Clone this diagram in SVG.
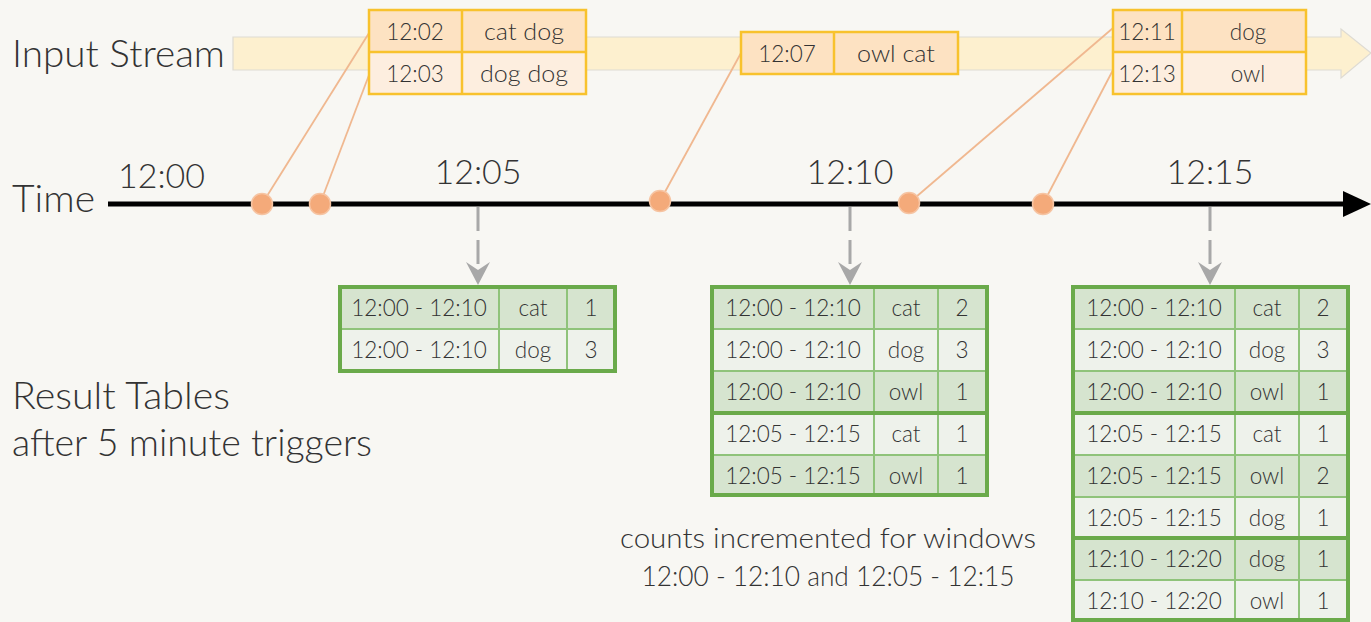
<svg xmlns="http://www.w3.org/2000/svg" width="1371" height="622" viewBox="0 0 1371 622">
<defs>
<style>
text{font-family:"Lato","Open Sans","Liberation Sans",sans-serif;font-weight:300;fill:#333}
.big{font-size:37px}
.tm{font-size:34px}
.cell{font-size:22.5px;text-anchor:middle}
.note{font-size:27px;text-anchor:middle}
.ev1{fill:#fde2c2}
.ev2{fill:#fdeedf}
.evb{fill:none;stroke:#f8c22d;stroke-width:2.5}
.rd{fill:#d6e4cf}
.rl{fill:#eef2eb}
.tin{stroke:#8fc37a;stroke-width:2}
.tgrp{stroke:#6aaa4a;stroke-width:4}
.tout{fill:none;stroke:#6aaa4a;stroke-width:4}
.link{stroke:#f0b890;stroke-width:1.8;fill:none}
.dot{fill:#f4aa7a;stroke:#f6c4a2;stroke-width:1.5}
.dash{stroke:#a8a8a8;stroke-width:3;stroke-dasharray:24 9;fill:none}
.arr{fill:#a8a8a8}
</style>
</defs>
<rect width="1371" height="622" fill="#f8f7f3"/>

<g id="input-stream">
<path d="M233,37 H1341 V29 L1371,53 L1341,78 V70 H233 Z" fill="#fdf0cf" stroke="#dedbd3" stroke-width="1.2"/>
<text class="big" x="12" y="67" textLength="213" lengthAdjust="spacingAndGlyphs">Input Stream</text>
</g>

<g id="time-axis">
<line x1="108" y1="204" x2="1345" y2="204" stroke="#000" stroke-width="5"/>
<path d="M1343,191 L1371,204 L1343,217 Z" fill="#000"/>
<text class="big" x="12" y="212" textLength="83" lengthAdjust="spacingAndGlyphs">Time</text>
<text class="tm" x="118" y="188">12:00</text>
<text class="tm" x="478" y="184" text-anchor="middle">12:05</text>
<text class="tm" x="850" y="184" text-anchor="middle">12:10</text>
<text class="tm" x="1210" y="184" text-anchor="middle">12:15</text>
</g>

<g id="connectors">
<line class="link" x1="262" y1="204" x2="369" y2="33"/>
<line class="link" x1="320" y1="204" x2="369" y2="75"/>
<line class="link" x1="660" y1="201" x2="741" y2="53"/>
<line class="link" x1="909" y1="203" x2="1113" y2="28"/>
<line class="link" x1="1043" y1="204" x2="1113" y2="70"/>
<line class="dash" x1="478" y1="207" x2="478" y2="266"/>
<path class="arr" d="M466,262 L478,270 L490,262 L478,285 Z"/>
<line class="dash" x1="850" y1="207" x2="850" y2="266"/>
<path class="arr" d="M838,262 L850,270 L862,262 L850,285 Z"/>
<line class="dash" x1="1210" y1="207" x2="1210" y2="266"/>
<path class="arr" d="M1198,262 L1210,270 L1222,262 L1210,285 Z"/>
</g>

<g id="dots">
<circle class="dot" cx="262" cy="204" r="10.5"/>
<circle class="dot" cx="320" cy="204" r="10.5"/>
<circle class="dot" cx="660" cy="201" r="10.5"/>
<circle class="dot" cx="909" cy="203" r="10.5"/>
<circle class="dot" cx="1043" cy="204" r="10.5"/>
</g>

<g id="event-1203">
<rect class="ev1" x="369" y="10" width="217" height="42"/>
<rect class="ev2" x="369" y="52" width="217" height="42"/>
<rect class="evb" x="369" y="10" width="217" height="84"/>
<line class="evb" x1="369" y1="52" x2="586" y2="52"/>
<line class="evb" x1="462" y1="10" x2="462" y2="94"/>
<text class="cell" x="415" y="40">12:02</text>
<text class="cell" x="524" y="40" textLength="80" lengthAdjust="spacingAndGlyphs">cat dog</text>
<text class="cell" x="415" y="82">12:03</text>
<text class="cell" x="524" y="82" textLength="88" lengthAdjust="spacingAndGlyphs">dog dog</text>
</g>

<g id="event-1207">
<rect class="ev1" x="741" y="32" width="217" height="42"/>
<rect class="evb" x="741" y="32" width="217" height="42"/>
<line class="evb" x1="834" y1="32" x2="834" y2="74"/>
<text class="cell" x="787" y="62">12:07</text>
<text class="cell" x="896" y="62" textLength="78" lengthAdjust="spacingAndGlyphs">owl cat</text>
</g>

<g id="event-1211">
<rect class="ev1" x="1113" y="10" width="193" height="42"/>
<rect class="ev2" x="1113" y="52" width="193" height="42"/>
<rect class="evb" x="1113" y="10" width="193" height="84"/>
<line class="evb" x1="1113" y1="52" x2="1306" y2="52"/>
<line class="evb" x1="1182" y1="10" x2="1182" y2="94"/>
<text class="cell" x="1147" y="40">12:11</text>
<text class="cell" x="1248" y="40">dog</text>
<text class="cell" x="1147" y="82">12:13</text>
<text class="cell" x="1248" y="82">owl</text>
</g>

<g id="labels">
<text class="big" x="12" y="409" textLength="218" lengthAdjust="spacingAndGlyphs">Result Tables</text>
<text class="big" x="12" y="456" textLength="360" lengthAdjust="spacingAndGlyphs">after 5 minute triggers</text>
<text class="note" x="828" y="548" textLength="416" lengthAdjust="spacingAndGlyphs">counts incremented for windows</text>
<text class="note" x="828" y="586" textLength="373" lengthAdjust="spacingAndGlyphs">12:00 - 12:10 and 12:05 - 12:15</text>
</g>

<g id="result-1205">
<rect class="rd" x="340" y="287" width="275" height="42"/>
<rect class="rl" x="340" y="329" width="275" height="42"/>
<line class="tin" x1="340" y1="329" x2="615" y2="329"/>
<line class="tin" x1="499" y1="287" x2="499" y2="371"/>
<line class="tin" x1="567" y1="287" x2="567" y2="371"/>
<rect class="tout" x="340" y="287" width="275" height="84"/>
<text class="cell" x="419" y="316">12:00 - 12:10</text><text class="cell" x="533" y="316">cat</text><text class="cell" x="591" y="316">1</text>
<text class="cell" x="419" y="358">12:00 - 12:10</text><text class="cell" x="533" y="358">dog</text><text class="cell" x="591" y="358">3</text>
</g>

<g id="result-1210">
<rect class="rd" x="712" y="287" width="275" height="42"/>
<rect class="rl" x="712" y="329" width="275" height="42"/>
<rect class="rd" x="712" y="371" width="275" height="42"/>
<rect class="rl" x="712" y="413" width="275" height="42"/>
<rect class="rd" x="712" y="455" width="275" height="40"/>
<line class="tin" x1="712" y1="329" x2="987" y2="329"/>
<line class="tin" x1="712" y1="371" x2="987" y2="371"/>
<line class="tin" x1="712" y1="455" x2="987" y2="455"/>
<line class="tin" x1="874" y1="287" x2="874" y2="495"/>
<line class="tin" x1="938" y1="287" x2="938" y2="495"/>
<line class="tgrp" x1="712" y1="413" x2="987" y2="413"/>
<rect class="tout" x="712" y="287" width="275" height="208"/>
<text class="cell" x="793" y="316">12:00 - 12:10</text><text class="cell" x="906" y="316">cat</text><text class="cell" x="962" y="316">2</text>
<text class="cell" x="793" y="358">12:00 - 12:10</text><text class="cell" x="906" y="358">dog</text><text class="cell" x="962" y="358">3</text>
<text class="cell" x="793" y="400">12:00 - 12:10</text><text class="cell" x="906" y="400">owl</text><text class="cell" x="962" y="400">1</text>
<text class="cell" x="793" y="442">12:05 - 12:15</text><text class="cell" x="906" y="442">cat</text><text class="cell" x="962" y="442">1</text>
<text class="cell" x="793" y="484">12:05 - 12:15</text><text class="cell" x="906" y="484">owl</text><text class="cell" x="962" y="484">1</text>
</g>

<g id="result-1215">
<rect class="rd" x="1073" y="287" width="275" height="42"/>
<rect class="rl" x="1073" y="329" width="275" height="42"/>
<rect class="rd" x="1073" y="371" width="275" height="42"/>
<rect class="rl" x="1073" y="413" width="275" height="42"/>
<rect class="rd" x="1073" y="455" width="275" height="42"/>
<rect class="rl" x="1073" y="497" width="275" height="41"/>
<rect class="rd" x="1073" y="538" width="275" height="42"/>
<rect class="rl" x="1073" y="580" width="275" height="40"/>
<line class="tin" x1="1073" y1="329" x2="1348" y2="329"/>
<line class="tin" x1="1073" y1="371" x2="1348" y2="371"/>
<line class="tin" x1="1073" y1="455" x2="1348" y2="455"/>
<line class="tin" x1="1073" y1="497" x2="1348" y2="497"/>
<line class="tin" x1="1073" y1="580" x2="1348" y2="580"/>
<line class="tin" x1="1235" y1="287" x2="1235" y2="620"/>
<line class="tin" x1="1299" y1="287" x2="1299" y2="620"/>
<line class="tgrp" x1="1073" y1="413" x2="1348" y2="413"/>
<line class="tgrp" x1="1073" y1="538" x2="1348" y2="538"/>
<rect class="tout" x="1073" y="287" width="275" height="333"/>
<text class="cell" x="1154" y="316">12:00 - 12:10</text><text class="cell" x="1267" y="316">cat</text><text class="cell" x="1323" y="316">2</text>
<text class="cell" x="1154" y="358">12:00 - 12:10</text><text class="cell" x="1267" y="358">dog</text><text class="cell" x="1323" y="358">3</text>
<text class="cell" x="1154" y="400">12:00 - 12:10</text><text class="cell" x="1267" y="400">owl</text><text class="cell" x="1323" y="400">1</text>
<text class="cell" x="1154" y="442">12:05 - 12:15</text><text class="cell" x="1267" y="442">cat</text><text class="cell" x="1323" y="442">1</text>
<text class="cell" x="1154" y="484">12:05 - 12:15</text><text class="cell" x="1267" y="484">owl</text><text class="cell" x="1323" y="484">2</text>
<text class="cell" x="1154" y="526">12:05 - 12:15</text><text class="cell" x="1267" y="526">dog</text><text class="cell" x="1323" y="526">1</text>
<text class="cell" x="1154" y="567">12:10 - 12:20</text><text class="cell" x="1267" y="567">dog</text><text class="cell" x="1323" y="567">1</text>
<text class="cell" x="1154" y="609">12:10 - 12:20</text><text class="cell" x="1267" y="609">owl</text><text class="cell" x="1323" y="609">1</text>
</g>
</svg>
